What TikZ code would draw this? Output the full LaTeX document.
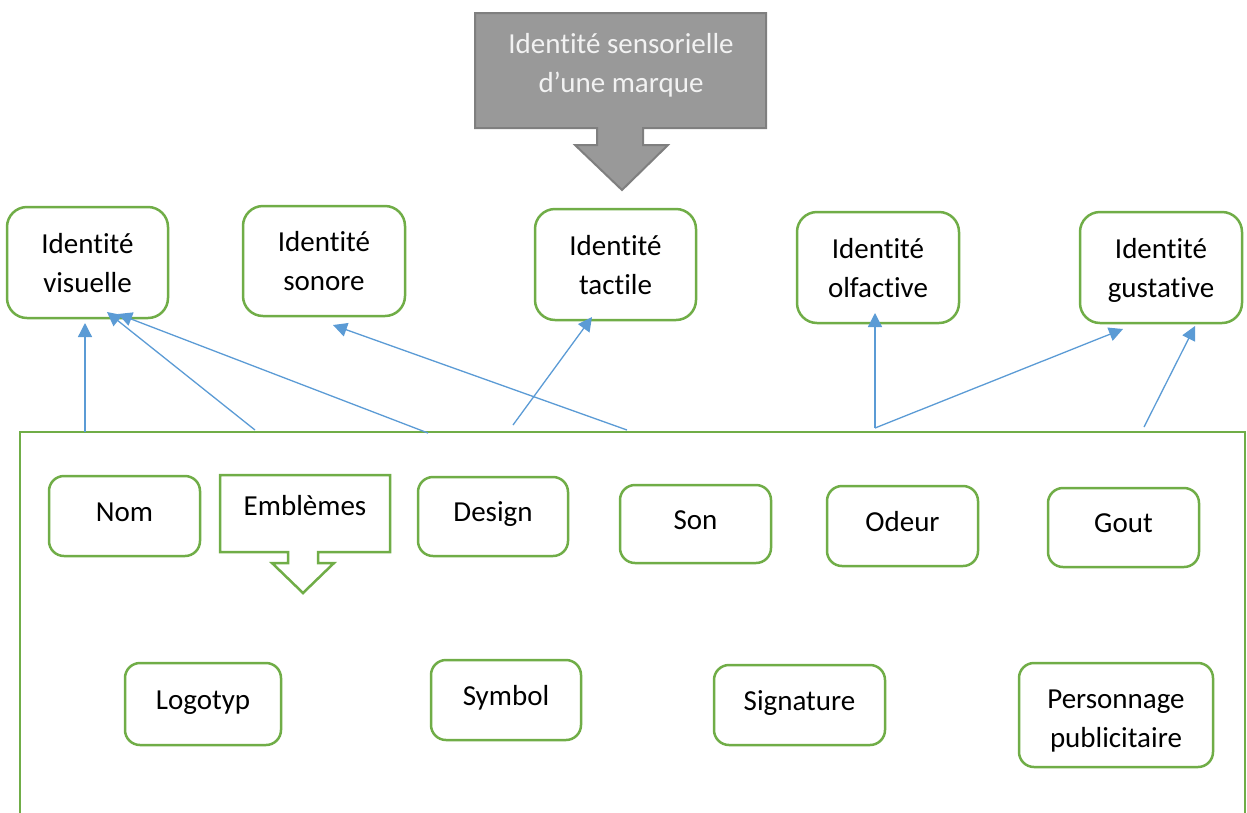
\documentclass[tikz,border=0pt]{standalone}
\usepackage{fontspec}
\setmainfont{Carlito}[Ligatures=NoCommon]
\usetikzlibrary{arrows.meta,calc}
\definecolor{boxgreen}{HTML}{70AD47}
\definecolor{linkblue}{HTML}{5B9BD5}
\definecolor{calloutfill}{HTML}{999999}
\definecolor{calloutdraw}{HTML}{7F7F7F}
\definecolor{callouttext}{HTML}{F2F2F2}
\newcommand{\diafont}{\fontsize{29}{39}\selectfont}
\begin{document}
\begin{tikzpicture}[x=1pt,y=-1pt,
  idbox/.style={draw=boxgreen, line width=2.5pt, rounded corners=20pt, fill=white,
    align=center, font=\diafont, inner sep=0pt, text height=59pt, text depth=0pt},
  itembox/.style={draw=boxgreen, line width=2.5pt, rounded corners=15pt, fill=white,
    align=center, font=\diafont, inner sep=0pt, text height=19pt, text depth=9pt},
  itembox2/.style={draw=boxgreen, line width=2.5pt, rounded corners=15pt, fill=white,
    align=center, font=\diafont, inner sep=0pt, text height=64pt, text depth=0pt},
  link/.style={draw=linkblue, line width=1.3pt, -{Triangle[length=14pt,width=14pt]}},
  frame/.style={draw=boxgreen, line width=2.5pt},
  txt/.style={font=\diafont, align=center, inner sep=0pt}]
\useasboundingbox (0,0) rectangle (1247,812);

% main callout at the top
\filldraw[fill=calloutfill, draw=calloutdraw, line width=2pt]
  (475,13) -- (766,13) -- (766,128) -- (643,128) -- (643,145) -- (668,145)
  -- (622,190) -- (575,145) -- (597,145) -- (597,128) -- (475,128) -- cycle;
\node[txt, text=callouttext, anchor=base] (title) at (621,92)
  {Identité sensorielle\\d’une marque};

% the five identities
\node[idbox, minimum width=161pt, minimum height=111pt] (vis) at (87.5,262.5) {Identité\\visuelle};
\node[idbox, minimum width=162pt, minimum height=110pt] (sono) at (324,261) {Identité\\sonore};
\node[idbox, minimum width=161pt, minimum height=111pt] (tact) at (615.5,264.5) {Identité\\tactile};
\node[idbox, minimum width=162pt, minimum height=111pt] (olf) at (878,267.5) {Identité\\olfactive};
\node[idbox, minimum width=162pt, minimum height=111pt] (gus) at (1161,267.5) {Identité\\gustative};

% frame holding the elements
\draw[frame] (20,830) -- (20,432) -- (1245,432) -- (1245,830);

% elements
\node[itembox, minimum width=151pt, minimum height=80pt] (nom) at (124.5,516) {Nom};
\filldraw[fill=white, draw=boxgreen, line width=2.5pt]
  (220,475) -- (390,475) -- (390,552) -- (318,552) -- (318,563) -- (334,563)
  -- (303,593) -- (272,563) -- (288,563) -- (288,552) -- (220,552) -- cycle;
\node[txt, anchor=base] (emb) at (305,515) {Emblèmes};
\node[itembox, minimum width=150pt, minimum height=79pt] (dsg) at (493,516.5) {Design};
\node[itembox, minimum width=151pt, minimum height=78pt] (sonn) at (695.5,524) {Son};
\node[itembox, minimum width=151pt, minimum height=80pt] (ode) at (902.5,526) {Odeur};
\node[itembox, minimum width=151pt, minimum height=79pt] (gou) at (1123.5,527.5) {Gout};

\node[itembox, minimum width=156pt, minimum height=82pt] (logo) at (203,704) {Logotyp};
\node[itembox, minimum width=150pt, minimum height=80pt] (sym) at (506,700) {Symbol};
\node[itembox, minimum width=171pt, minimum height=80pt] (sig) at (799.5,705) {Signature};
\node[itembox2, minimum width=194pt, minimum height=104pt] (pers) at (1116,715) {Personnage\\publicitaire};

% link ends on the frame and under the identities
\coordinate (s1) at (85,432);
\coordinate (s2) at (255,430);
\coordinate (s3) at (428,433);
\coordinate (s4) at (627,430);
\coordinate (s5) at (513,425);
\coordinate (s6) at (875,428);
\coordinate (s7) at (1144,427);
\coordinate (t1) at (85,323);
\coordinate (t2) at (107,312);
\coordinate (t3) at (118,314);
\coordinate (t4) at (333,325);
\coordinate (t5) at (592,317);
\coordinate (t6) at (875,313);
\coordinate (t7) at (1123,329);
\coordinate (t8) at (1195,326);

\draw[link] (s1) -- (t1);
\draw[link] (s2) -- (t2);
\draw[link] (s3) -- (t3);
\draw[link] (s4) -- (t4);
\draw[link] (s5) -- (t5);
\draw[link] (s6) -- (t6);
\draw[link] (s6) -- (t7);
\draw[link] (s7) -- (t8);
\end{tikzpicture}
\end{document}
